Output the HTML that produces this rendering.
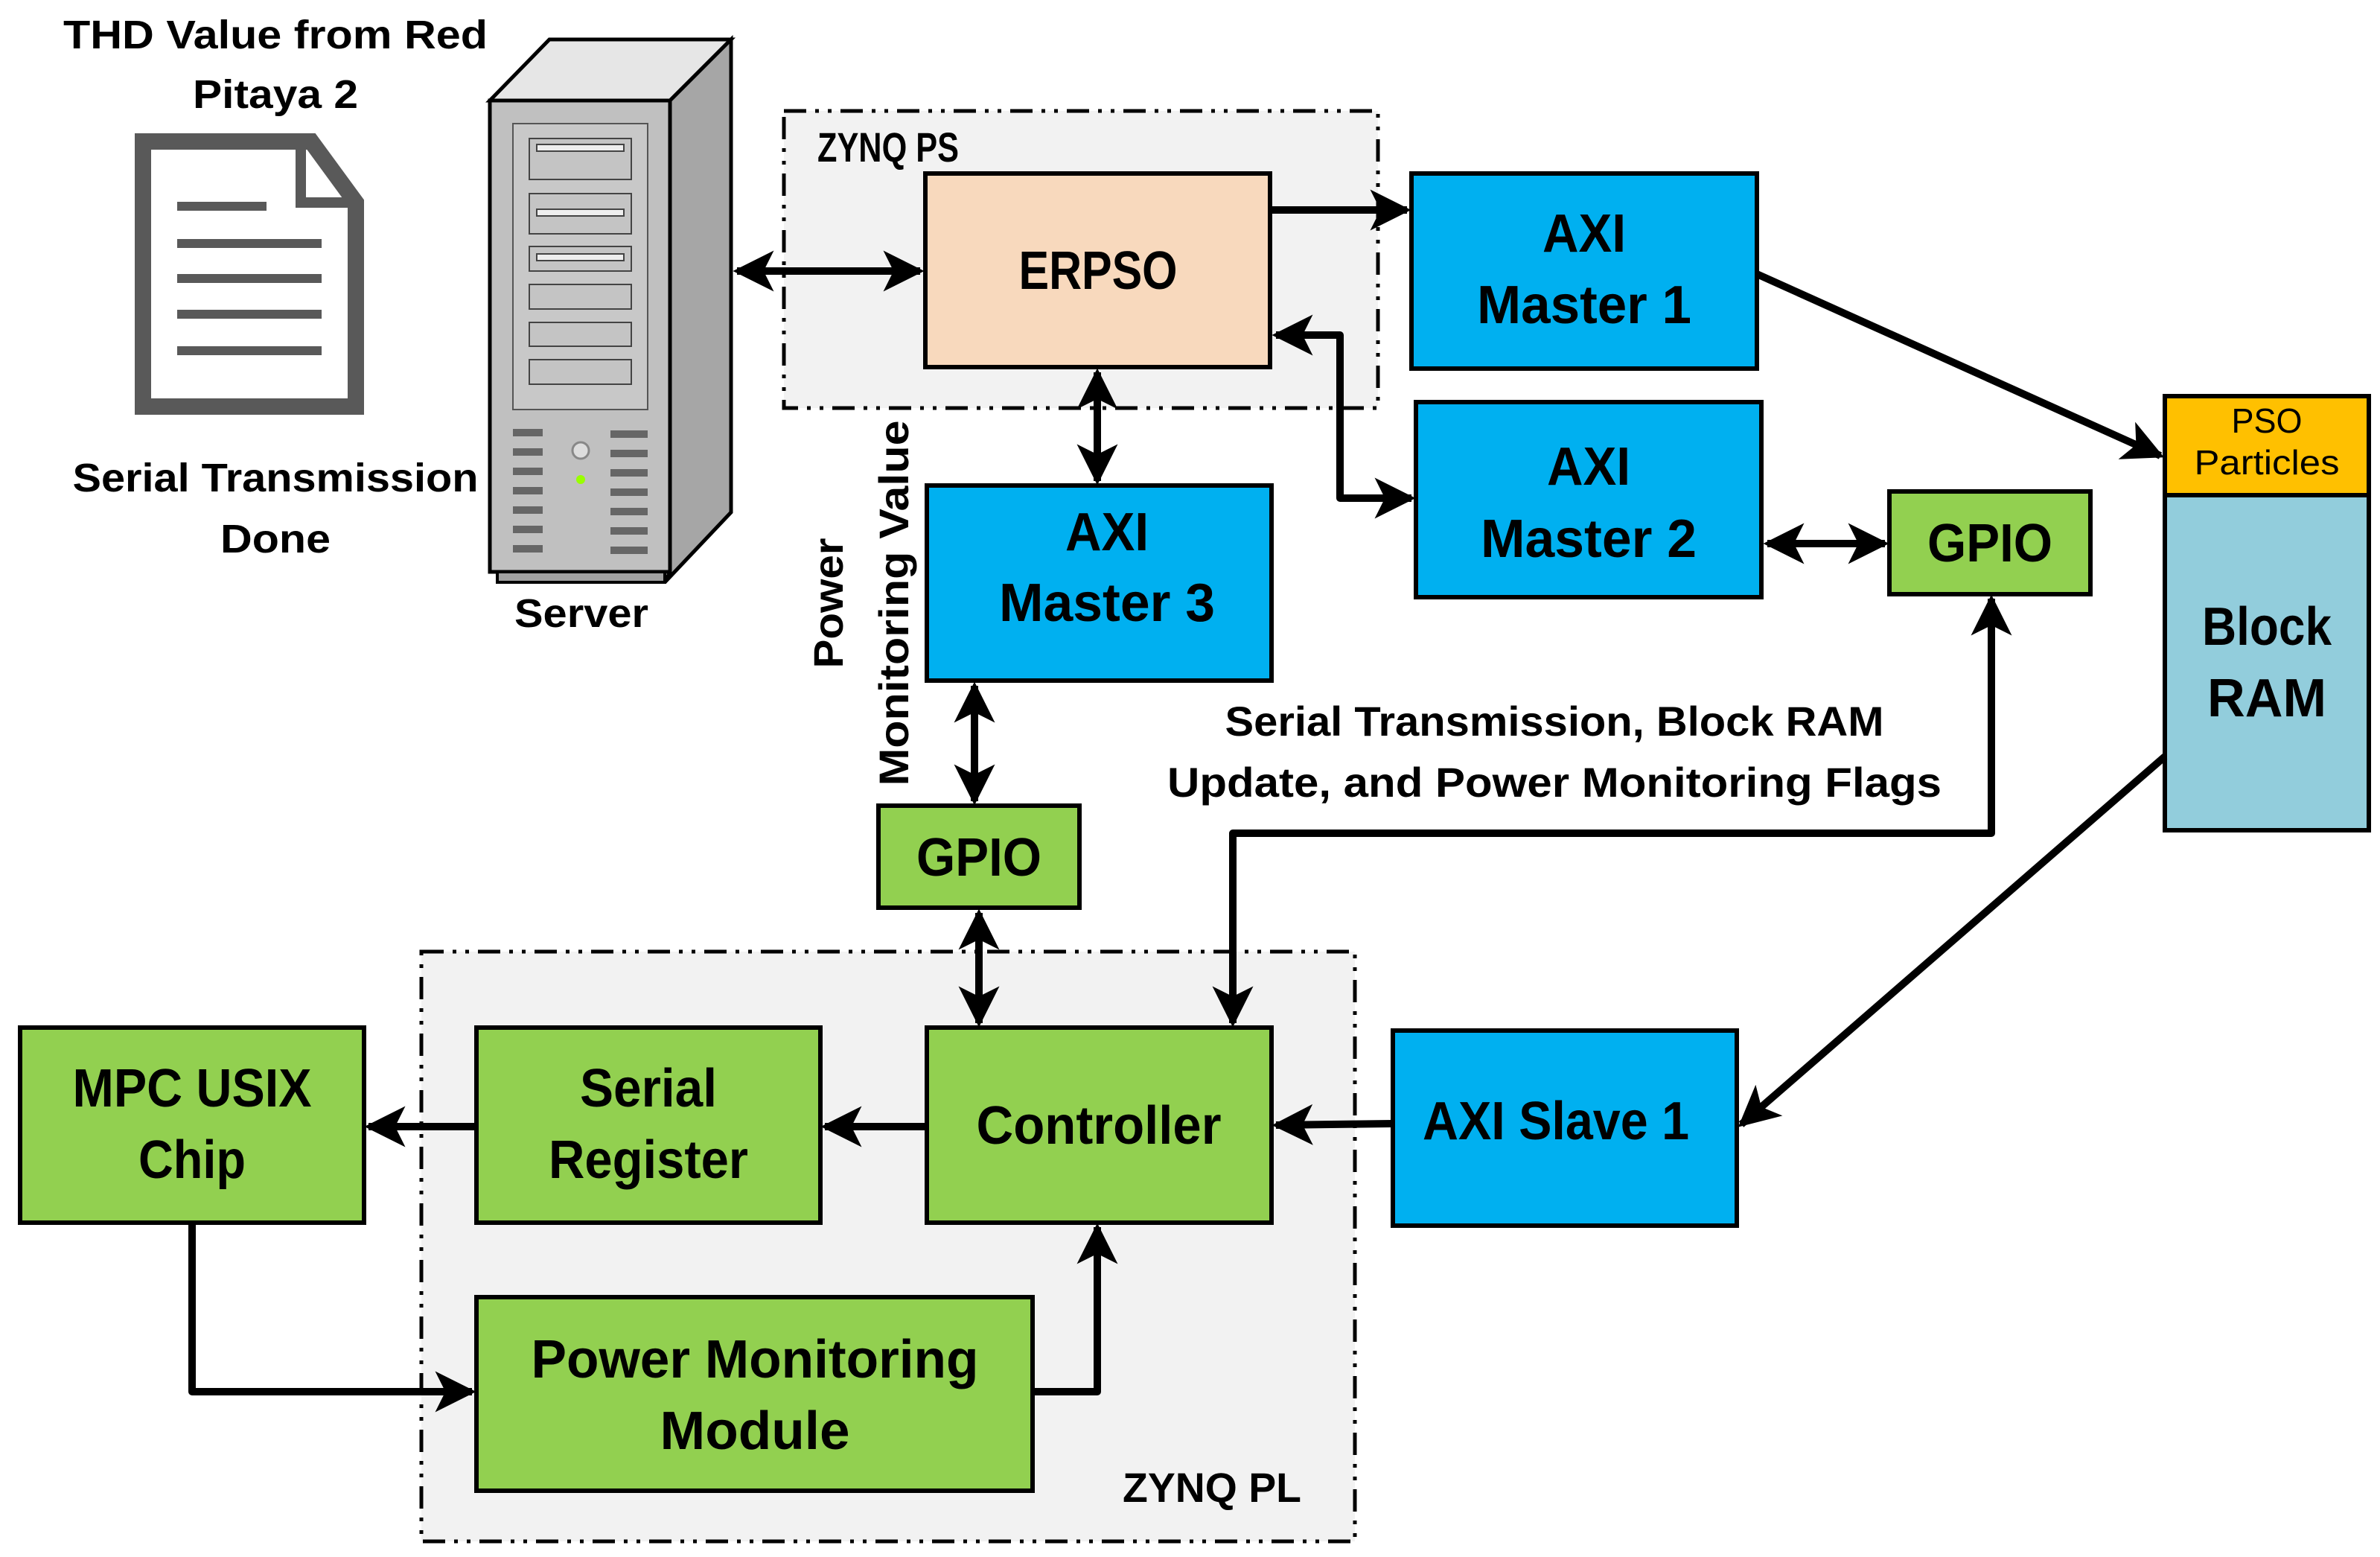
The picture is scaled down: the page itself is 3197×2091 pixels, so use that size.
<!DOCTYPE html>
<html><head><meta charset="utf-8"><style>
html,body{margin:0;padding:0;background:#fff}
svg{display:block}
text{font-family:"Liberation Sans",sans-serif;font-weight:bold;fill:#000}
</style></head><body>
<svg width="3197" height="2091" viewBox="0 0 3197 2091" xmlns="http://www.w3.org/2000/svg">
<defs>
<marker id="a" viewBox="0 0 10 10" refX="9" refY="5" markerWidth="5.5" markerHeight="5.5" orient="auto-start-reverse" markerUnits="strokeWidth">
<path d="M0,0 L10,5 L0,10 L2.5,5 Z" fill="#000"/></marker>
</defs>
<rect width="3197" height="2091" fill="#fff"/>

<!-- ZYNQ regions -->
<rect x="1053" y="149" width="798" height="399" fill="#f2f2f2" stroke="#000" stroke-width="5" stroke-dasharray="30,12,5,12,5,12"/>
<rect x="566" y="1278" width="1254" height="792" fill="#f2f2f2" stroke="#000" stroke-width="5" stroke-dasharray="30,12,5,12,5,12"/>
<text x="1098" y="217" font-size="56" textLength="190" lengthAdjust="spacingAndGlyphs">ZYNQ PS</text>
<text x="1628" y="2017" font-size="56" text-anchor="middle" textLength="240" lengthAdjust="spacingAndGlyphs">ZYNQ PL</text>

<!-- Document icon -->
<path d="M192,190 L418,190 L478,272 L478,546 L192,546 Z" fill="#fff" stroke="#595959" stroke-width="22"/>
<path d="M404,194 L404,272 L474,272" fill="none" stroke="#595959" stroke-width="14"/>
<g stroke="#595959" stroke-width="12">
<line x1="238" y1="277" x2="358" y2="277"/><line x1="238" y1="327" x2="432" y2="327"/>
<line x1="238" y1="374" x2="432" y2="374"/><line x1="238" y1="422" x2="432" y2="422"/>
<line x1="238" y1="471" x2="432" y2="471"/></g>
<text x="370" y="65" font-size="54" text-anchor="middle" textLength="570" lengthAdjust="spacingAndGlyphs">THD Value from Red</text>
<text x="370" y="145" font-size="54" text-anchor="middle" textLength="222" lengthAdjust="spacingAndGlyphs">Pitaya 2</text>
<text x="370" y="660" font-size="54" text-anchor="middle" textLength="545" lengthAdjust="spacingAndGlyphs">Serial Transmission</text>
<text x="370" y="742" font-size="54" text-anchor="middle" textLength="148" lengthAdjust="spacingAndGlyphs">Done</text>

<!-- Server -->
<polygon points="658,135 738,53 982,53 900,135" fill="#e6e6e6" stroke="#000" stroke-width="5"/>
<polygon points="900,135 982,53 982,688 893,782 900,768" fill="#a6a6a6" stroke="#000" stroke-width="5"/>
<rect x="658" y="135" width="242" height="633" fill="#c0c0c0" stroke="#000" stroke-width="5"/>
<rect x="668" y="768" width="225" height="14" fill="#a0a0a0" stroke="#000" stroke-width="4"/>
<rect x="689" y="166" width="181" height="384" fill="#c8c8c8" stroke="#555" stroke-width="2"/>
<g fill="#c4c4c4" stroke="#444" stroke-width="2">
<rect x="711" y="186" width="137" height="55"/><rect x="711" y="260" width="137" height="54"/>
<rect x="711" y="331" width="137" height="33"/><rect x="711" y="382" width="137" height="33"/>
<rect x="711" y="433" width="137" height="32"/><rect x="711" y="483" width="137" height="33"/></g>
<g fill="#eee" stroke="#444" stroke-width="2"><rect x="721" y="194" width="117" height="9"/><rect x="721" y="281" width="117" height="9"/><rect x="721" y="341" width="117" height="9"/></g>
<g fill="#666"><rect x="689" y="576" width="40" height="10"/><rect x="820" y="578" width="50" height="10"/>
<rect x="689" y="602" width="40" height="10"/><rect x="820" y="604" width="50" height="10"/>
<rect x="689" y="628" width="40" height="10"/><rect x="820" y="630" width="50" height="10"/>
<rect x="689" y="654" width="40" height="10"/><rect x="820" y="656" width="50" height="10"/>
<rect x="689" y="680" width="40" height="10"/><rect x="820" y="682" width="50" height="10"/>
<rect x="689" y="706" width="40" height="10"/><rect x="820" y="708" width="50" height="10"/>
<rect x="689" y="732" width="40" height="10"/><rect x="820" y="734" width="50" height="10"/></g>
<circle cx="780" cy="605" r="11" fill="#ddd" stroke="#888" stroke-width="3"/>
<circle cx="780" cy="644" r="6" fill="#9f0"/>
<text x="781" y="842" font-size="54" text-anchor="middle" textLength="180" lengthAdjust="spacingAndGlyphs">Server</text>

<!-- Boxes -->
<g stroke="#000" stroke-width="6">
<rect x="1243" y="233" width="463" height="260" fill="#f8d9bd"/>
<rect x="1896" y="233" width="464" height="262" fill="#00b0f0"/>
<rect x="1902" y="540" width="464" height="262" fill="#00b0f0"/>
<rect x="2538" y="660" width="270" height="138" fill="#92d050"/>
<rect x="2908" y="532" width="274" height="133" fill="#ffc000"/>
<rect x="2908" y="665" width="274" height="450" fill="#92cddc"/>
<rect x="1245" y="652" width="463" height="262" fill="#00b0f0"/>
<rect x="1180" y="1082" width="270" height="137" fill="#92d050"/>
<rect x="27" y="1380" width="462" height="262" fill="#92d050"/>
<rect x="640" y="1380" width="462" height="262" fill="#92d050"/>
<rect x="1245" y="1380" width="463" height="262" fill="#92d050"/>
<rect x="1871" y="1384" width="462" height="262" fill="#00b0f0"/>
<rect x="640" y="1742" width="747" height="260" fill="#92d050"/>
</g>
<g font-size="72" text-anchor="middle">
<text x="1475" y="388" textLength="213" lengthAdjust="spacingAndGlyphs">ERPSO</text>
<text x="2128" y="338" textLength="112" lengthAdjust="spacingAndGlyphs">AXI</text>
<text x="2128" y="434" textLength="288" lengthAdjust="spacingAndGlyphs">Master 1</text>
<text x="2134" y="651" textLength="112" lengthAdjust="spacingAndGlyphs">AXI</text>
<text x="2134" y="748" textLength="290" lengthAdjust="spacingAndGlyphs">Master 2</text>
<text x="2673" y="754" textLength="168" lengthAdjust="spacingAndGlyphs">GPIO</text>
<text x="1487" y="739" textLength="112" lengthAdjust="spacingAndGlyphs">AXI</text>
<text x="1487" y="834" textLength="290" lengthAdjust="spacingAndGlyphs">Master 3</text>
<text x="1315" y="1176" textLength="168" lengthAdjust="spacingAndGlyphs">GPIO</text>
<text x="258" y="1486" textLength="321" lengthAdjust="spacingAndGlyphs">MPC USIX</text>
<text x="258" y="1582" textLength="144" lengthAdjust="spacingAndGlyphs">Chip</text>
<text x="871" y="1486" textLength="184" lengthAdjust="spacingAndGlyphs">Serial</text>
<text x="871" y="1582" textLength="268" lengthAdjust="spacingAndGlyphs">Register</text>
<text x="1476" y="1536" textLength="329" lengthAdjust="spacingAndGlyphs">Controller</text>
<text x="2090" y="1530" textLength="358" lengthAdjust="spacingAndGlyphs">AXI Slave 1</text>
<text x="1014" y="1850" textLength="601" lengthAdjust="spacingAndGlyphs">Power Monitoring</text>
<text x="1014" y="1946" textLength="255" lengthAdjust="spacingAndGlyphs">Module</text>
<text x="3045" y="866" textLength="174" lengthAdjust="spacingAndGlyphs">Block</text>
<text x="3045" y="962" textLength="160" lengthAdjust="spacingAndGlyphs">RAM</text>
</g>
<text x="3045" y="581" font-size="46" text-anchor="middle" style="font-weight:normal" textLength="95" lengthAdjust="spacingAndGlyphs">PSO</text>
<text x="3045" y="637" font-size="46" text-anchor="middle" style="font-weight:normal" textLength="195" lengthAdjust="spacingAndGlyphs">Particles</text>

<!-- labels -->
<text x="2088" y="988" font-size="56" text-anchor="middle" textLength="885" lengthAdjust="spacingAndGlyphs">Serial Transmission, Block RAM</text>
<text x="2088" y="1070" font-size="56" text-anchor="middle" textLength="1040" lengthAdjust="spacingAndGlyphs">Update, and Power Monitoring Flags</text>
<text transform="translate(1132,810) rotate(-90)" font-size="56" text-anchor="middle" textLength="175" lengthAdjust="spacingAndGlyphs">Power</text>
<text transform="translate(1220,810) rotate(-90)" font-size="56" text-anchor="middle" textLength="491" lengthAdjust="spacingAndGlyphs">Monitoring Value</text>

<!-- connectors -->
<g stroke="#000" stroke-width="10" fill="none" stroke-linejoin="round">
<line x1="990" y1="364" x2="1236" y2="364" marker-start="url(#a)" marker-end="url(#a)"/>
<line x1="1706" y1="282" x2="1890" y2="282" marker-end="url(#a)"/>
<line x1="2360" y1="368" x2="2902" y2="612" marker-end="url(#a)"/>
<polyline points="1714,450 1800,450 1800,669 1896,669" marker-start="url(#a)" marker-end="url(#a)"/>
<line x1="2374" y1="730" x2="2532" y2="730" marker-start="url(#a)" marker-end="url(#a)"/>
<line x1="1474" y1="500" x2="1474" y2="646" marker-start="url(#a)" marker-end="url(#a)"/>
<line x1="1309" y1="921" x2="1309" y2="1076" marker-start="url(#a)" marker-end="url(#a)"/>
<line x1="1315" y1="1226" x2="1315" y2="1374" marker-start="url(#a)" marker-end="url(#a)"/>
<polyline points="1656,1374 1656,1119 2675,1119 2675,804" marker-start="url(#a)" marker-end="url(#a)"/>
<line x1="2908" y1="1016" x2="2339" y2="1510" marker-end="url(#a)"/>
<line x1="1871" y1="1509" x2="1714" y2="1511" marker-end="url(#a)"/>
<line x1="1245" y1="1513" x2="1108" y2="1513" marker-end="url(#a)"/>
<line x1="640" y1="1513" x2="495" y2="1513" marker-end="url(#a)"/>
<polyline points="258,1642 258,1869 634,1869" marker-end="url(#a)"/>
<polyline points="1387,1869 1474,1869 1474,1648" marker-end="url(#a)"/>
</g>
</svg>
</body></html>
